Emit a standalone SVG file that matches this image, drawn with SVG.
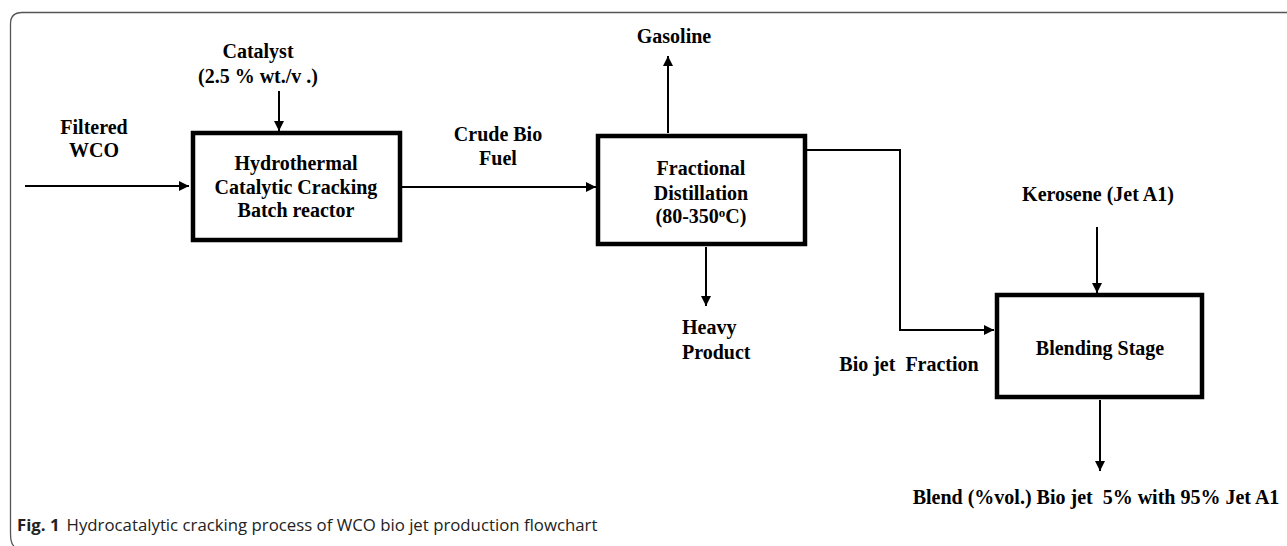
<svg xmlns="http://www.w3.org/2000/svg" width="1287" height="546" viewBox="0 0 1287 546">
<defs>
<style>
.lbl{font-family:"Liberation Serif","Times New Roman",serif;font-weight:bold;font-size:20px;fill:#000}
.box{fill:#fff;stroke:#000;stroke-width:4.5}
.ln{fill:none;stroke:#000;stroke-width:2}
.cap{font-family:"Open Sans","Noto Sans",sans-serif;font-size:16.8px;fill:#222}
</style>
<marker id="ah2" viewBox="0 0 10 10" refX="10" refY="5" markerWidth="10" markerHeight="10" markerUnits="userSpaceOnUse" orient="auto">
<path d="M0,0 L10,5 L0,10 z" fill="#000"/>
</marker>
</defs>
<rect width="1287" height="546" fill="#fff"/>
<path d="M1290,12.5 L22,12.5 Q10.5,12.5 10.5,24 L10.5,533 Q10.5,544 14,546" fill="none" stroke="#555" stroke-width="1.3"/>

<g id="connectors">
<line class="ln" x1="25" y1="186" x2="189" y2="186" marker-end="url(#ah2)"/>
<line class="ln" x1="279" y1="91" x2="279" y2="131" marker-end="url(#ah2)"/>
<line class="ln" x1="402" y1="187" x2="596" y2="187" marker-end="url(#ah2)"/>
<line class="ln" x1="668" y1="133" x2="668" y2="56" marker-end="url(#ah2)"/>
<line class="ln" x1="706" y1="247" x2="706" y2="306" marker-end="url(#ah2)"/>
<polyline class="ln" points="807,150 900,150 900,330 994,330" marker-end="url(#ah2)"/>
<line class="ln" x1="1097" y1="227" x2="1097" y2="293" marker-end="url(#ah2)"/>
<line class="ln" x1="1100" y1="400" x2="1100" y2="471" marker-end="url(#ah2)"/>
</g>

<g id="reactor">
<rect class="box" x="193" y="133" width="207" height="107"/>
<text class="lbl" text-anchor="middle" x="296" y="170">Hydrothermal</text>
<text class="lbl" text-anchor="middle" x="296" y="194">Catalytic Cracking</text>
<text class="lbl" text-anchor="middle" x="296" y="217">Batch reactor</text>
</g>

<g id="distillation">
<rect class="box" x="598" y="136" width="207" height="108"/>
<text class="lbl" text-anchor="middle" x="701" y="175">Fractional</text>
<text class="lbl" text-anchor="middle" x="701" y="200">Distillation</text>
<text class="lbl" text-anchor="middle" x="701" y="223">(80-350<tspan font-size="13" dy="-6">o</tspan><tspan dy="6">C)</tspan></text>
</g>

<g id="blending">
<rect class="box" x="997" y="295" width="205" height="102"/>
<text class="lbl" text-anchor="middle" x="1100" y="355">Blending Stage</text>
</g>

<g id="labels">
<text class="lbl" text-anchor="middle" x="94" y="134">Filtered</text>
<text class="lbl" text-anchor="middle" x="94" y="157">WCO</text>
<text class="lbl" text-anchor="middle" x="258" y="58">Catalyst</text>
<text class="lbl" text-anchor="middle" x="258" y="83">(2.5 % wt./v .)</text>
<text class="lbl" text-anchor="middle" x="498" y="141">Crude Bio</text>
<text class="lbl" text-anchor="middle" x="498" y="165">Fuel</text>
<text class="lbl" text-anchor="middle" x="674" y="43">Gasoline</text>
<text class="lbl" x="682" y="334">Heavy</text>
<text class="lbl" x="682" y="359">Product</text>
<text class="lbl" text-anchor="middle" x="1098" y="201">Kerosene (Jet A1)</text>
<text class="lbl" text-anchor="middle" x="909" y="371" xml:space="preserve">Bio jet  Fraction</text>
<text class="lbl" text-anchor="middle" x="1096" y="504" xml:space="preserve">Blend (%vol.) Bio jet  5% with 95% Jet A1</text>
</g>

<text class="cap" x="17" y="531"><tspan font-weight="bold">Fig. 1</tspan><tspan dx="7">Hydrocatalytic cracking process of WCO bio jet production flowchart</tspan></text>
</svg>
